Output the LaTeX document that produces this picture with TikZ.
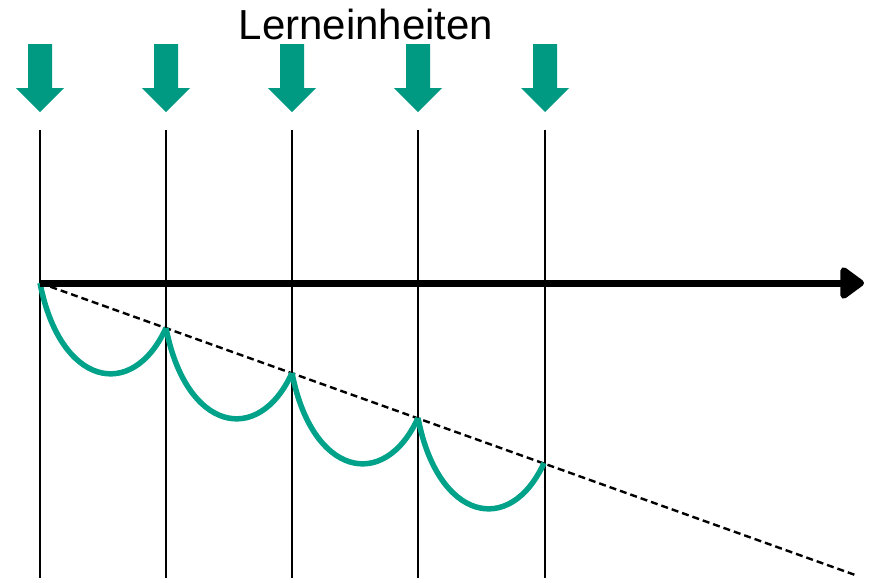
\documentclass[tikz,border=0pt]{standalone}
\usepackage{fontspec}
\setmainfont{Liberation Sans}
\usetikzlibrary{arrows.meta,calc}
\definecolor{teal1}{HTML}{009A83}
\definecolor{teal2}{HTML}{00A28A}
\tikzset{
  unitline/.style={line width=2.4pt,black},
  axisline/.style={line width=7pt,black,-{Triangle[length=26pt,width=36pt,round]}},
  trendline/.style={line width=2.4pt,black,dash pattern=on 7pt off 4pt},
  forget/.style={line width=5.5pt,teal2,line join=miter},
  downarrow/.style={fill=teal1,draw=none},
}
\begin{document}
\begin{tikzpicture}[x=1pt,y=-1pt]
\useasboundingbox (0,0) rectangle (870,582);
\node[font=\fontsize{42}{46}\selectfont,inner sep=0pt] (title) at (366,24) {Lerneinheiten};
\foreach \i/\x in {0/40,1/166,2/292,3/418,4/545}{
  \coordinate (top\i) at (\x,130);
  \coordinate (bot\i) at (\x,578);
  \draw[unitline] (top\i) -- (bot\i);
  \fill[downarrow] (\x-12,44) -- (\x+12,44) -- (\x+12,88) -- (\x+24,88) -- (\x,112) -- (\x-24,88) -- (\x-12,88) -- cycle;
}
\coordinate (o) at (40,283);
\coordinate (axend) at (864,283);
\coordinate (trendend) at (858,576);
\draw[trendline] (o) -- (trendend);
\foreach \i in {0,1,2,3}{
  \begin{scope}[shift={(126*\i,45*\i)}]
    \draw[forget] (40,283) .. controls (60,386) and (132,402) .. (166,328);
  \end{scope}
}
\draw[axisline] (o) -- (axend);
\end{tikzpicture}
\end{document}
